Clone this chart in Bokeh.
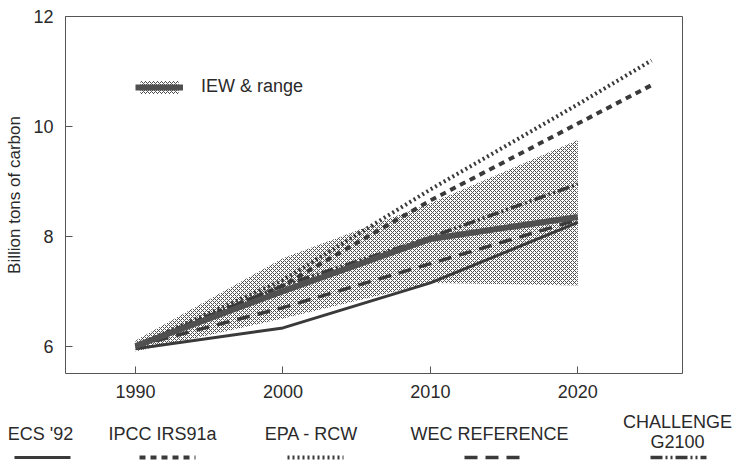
from bokeh.plotting import figure
from bokeh.models import Range1d, FixedTicker, Legend, LegendItem, Label, Arrow, LinearAxis
from bokeh.embed import file_html
from bokeh.resources import INLINE

# ---- data ----
years = [1990, 2000, 2010, 2020]
years_long = [1990, 2000, 2010, 2020, 2025]
ecs92 = [5.95, 6.33, 7.15, 8.25]
wec_reference = [6.0, 6.7, 7.5, 8.3]
challenge_g2100 = [6.0, 7.1, 7.98, 8.95]
iew = [6.0, 7.0, 7.95, 8.35]
iew_low = [5.9, 6.5, 7.15, 7.1]
iew_high = [6.1, 7.6, 8.6, 9.75]
ipcc_irs91a = [6.0, 7.1, 8.65, 10.05, 10.75]
epa_rcw = [6.0, 7.2, 8.85, 10.4, 11.2]

x_ticks = [1990, 2000, 2010, 2020]
y_ticks = [6, 8, 10, 12]
x_lim = (1985.25, 2027.1)
y_lim = (5.5, 12.0)
legend_labels = [["ECS '92"], ["IPCC IRS91a"], ["EPA - RCW"], ["WEC REFERENCE"], ["CHALLENGE", "G2100"]]

# ---- layout / styles (pixels) ----
W, H = 736, 460
BOX_L, BOX_R, BOX_T, BOX_B = 65, 682, 16, 373
FONT = "Liberation Sans"
TXT = "#2a2a2a"
LINE = "#3a3a3a"
AX = "#555555"
styles = [
    dict(line_width=3, line_dash="solid"),
    dict(line_width=4, line_dash="6 5"),
    dict(line_width=4, line_dash="2 3"),
    dict(line_width=3.5, line_dash="13 8"),
    dict(line_width=3.5, line_dash="12 3 2 3 2 3"),
]
legend_text_cx = [40, 162, 311, 489, 677]
legend_sample_cx = [42, 167, 315, 492, 678]

# frame covers the whole canvas; the plot box is drawn by axes with fixed locations
sx = (BOX_R - BOX_L) / (x_lim[1] - x_lim[0])
sy = (BOX_B - BOX_T) / (y_lim[1] - y_lim[0])
xr = Range1d(x_lim[0] - BOX_L / sx, x_lim[1] + (W - BOX_R) / sx)
yr = Range1d(y_lim[0] - (H - BOX_B) / sy, y_lim[1] + BOX_T / sy)

p = figure(width=W, height=H, output_backend="svg", toolbar_location=None,
           x_range=xr, y_range=yr, min_border=0)
p.grid.visible = False
p.outline_line_color = None
p.background_fill_color = "white"
p.border_fill_color = "white"

def style_axis(ax):
    ax.major_tick_in = 7
    ax.major_tick_out = 0
    ax.minor_tick_in = 0
    ax.minor_tick_out = 0
    ax.axis_line_color = AX
    ax.axis_line_width = 1
    ax.major_tick_line_color = AX
    ax.major_label_text_font = FONT
    ax.major_label_text_font_size = "18px"
    ax.major_label_text_color = TXT

xa = p.xaxis[0]
ya = p.yaxis[0]
style_axis(xa)
style_axis(ya)
xa.ticker = FixedTicker(ticks=x_ticks)
ya.ticker = FixedTicker(ticks=y_ticks)
xa.fixed_location = y_lim[0]
ya.fixed_location = x_lim[0]
xa.bounds = x_lim
ya.bounds = y_lim
xa.major_label_standoff = 11
ya.major_label_standoff = 12
ya.axis_label = "Billion tons of carbon"
ya.axis_label_text_font = FONT
ya.axis_label_text_font_size = "17px"
ya.axis_label_text_font_style = "normal"
ya.axis_label_text_color = TXT
ya.axis_label_standoff = 6

# top and right edges of the plot box
top = LinearAxis(fixed_location=y_lim[1], bounds=x_lim, ticker=FixedTicker(ticks=[]),
                 axis_line_color=AX, major_tick_line_color=None, minor_tick_line_color=None,
                 major_label_text_color=None)
right = LinearAxis(fixed_location=x_lim[1], bounds=y_lim, ticker=FixedTicker(ticks=[]),
                   axis_line_color=AX, major_tick_line_color=None, minor_tick_line_color=None,
                   major_label_text_color=None)
p.add_layout(top, "above")
p.add_layout(right, "right")

band = p.varea(x=years, y1=iew_low, y2=iew_high, fill_color=None, fill_alpha=0,
               hatch_pattern="x", hatch_scale=4, hatch_weight=1.0, hatch_color="#4e4e4e")

series = [(years, ecs92), (years_long, ipcc_irs91a), (years_long, epa_rcw),
          (years, wec_reference), (years, challenge_g2100)]
for (xs, ys), st in zip(series, styles):
    p.line(xs, ys, line_color=LINE, line_cap="butt", **st)

iew_r = p.line(years, iew, line_color="#505050", line_width=6, line_join="round")

leg = Legend(items=[LegendItem(label="IEW & range", renderers=[band, iew_r])],
             location=(135, 363), glyph_width=48, glyph_height=16, label_standoff=18,
             label_text_font=FONT, label_text_font_size="18px", label_text_color=TXT,
             padding=0, margin=0, border_line_color=None, background_fill_alpha=0)
p.add_layout(leg)

# ---- bottom legend strip (screen px from the canvas bottom-left) ----
for lines, cx in zip(legend_labels, legend_text_cx):
    ys = [27] if len(lines) == 1 else [39, 19]
    for t, ty in zip(lines, ys):
        p.add_layout(Label(x=cx, y=ty, x_units="screen", y_units="screen", text=t,
                           text_align="center", text_baseline="middle",
                           text_font=FONT, text_font_size="18px", text_color=TXT))
for cx, st in zip(legend_sample_cx, styles):
    p.add_layout(Arrow(end=None, x_start=cx - 28, y_start=3, x_end=cx + 28, y_end=3,
                       start_units="screen", end_units="screen", line_color=LINE,
                       line_cap="butt", **st))

open("out.html", "w").write(file_html(p, INLINE))
